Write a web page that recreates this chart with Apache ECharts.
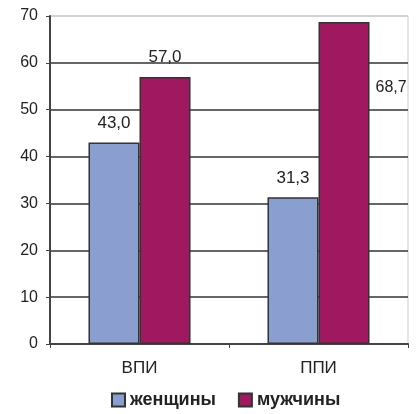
<!DOCTYPE html>
<html><head><meta charset="utf-8">
<script src="https://cdn.jsdelivr.net/npm/echarts@6/dist/echarts.min.js"></script>
<style>html,body{margin:0;padding:0;background:#fff}#c{width:417px;height:414px}</style>
</head><body><div id="c"></div>
<script>
var categories = ['ВПИ', 'ППИ'];
var women = [43.0, 31.3];
var men = [57.0, 68.7];
var seriesNames = ['женщины', 'мужчины'];
var yTicks = [0, 10, 20, 30, 40, 50, 60, 70];

var fmt = function (p) { return p.value.toFixed(1).replace('.', ','); };
var chart = echarts.init(document.getElementById('c'));
var labelBase = { show: true, position: 'top', distance: 11, formatter: fmt, color: '#222', fontFamily: 'Liberation Sans', fontSize: 17 };
var gridColors = yTicks.map(function (t, i) { return i === yTicks.length - 1 ? '#ccc' : '#333'; });

chart.setOption({
  animation: false,
  textStyle: { fontFamily: 'Liberation Sans' },
  grid: { left: 50, right: 9, top: 16, bottom: 70, show: true, borderColor: '#ccc', borderWidth: 1 },
  legend: {
    data: seriesNames, bottom: 0, left: 106, itemWidth: 13, itemHeight: 13, itemGap: 22,
    icon: 'rect',
    textStyle: { fontSize: 18, color: '#222', fontWeight: 'bold', fontFamily: 'Liberation Sans' }
  },
  xAxis: {
    type: 'category', data: categories,
    axisLine: { lineStyle: { color: '#444', width: 2 } },
    axisTick: { show: true, alignWithLabel: false, length: 4, lineStyle: { color: '#444' } },
    axisLabel: { fontSize: 17, color: '#222', margin: 16 }
  },
  yAxis: {
    type: 'value', min: yTicks[0], max: yTicks[yTicks.length - 1], interval: 10,
    axisLine: { show: true, lineStyle: { color: '#444', width: 2 } },
    axisTick: { show: true, length: 4, lineStyle: { color: '#444' } },
    axisLabel: { fontSize: 16, color: '#222', margin: 12 },
    splitLine: { lineStyle: { color: gridColors, width: 1.5 } }
  },
  series: [
    {
      name: seriesNames[0], type: 'bar', data: women, barGap: '0%', barCategoryGap: '43%',
      itemStyle: { color: '#8a9fd0', borderColor: '#333', borderWidth: 1.5 },
      label: labelBase
    },
    {
      name: seriesNames[1], type: 'bar',
      data: [men[0], { value: men[1], label: { position: [57, 58], distance: 0, fontSize: 16 } }],
      itemStyle: { color: '#a0185f', borderColor: '#333', borderWidth: 1.5 },
      label: labelBase
    }
  ]
});
</script></body></html>
